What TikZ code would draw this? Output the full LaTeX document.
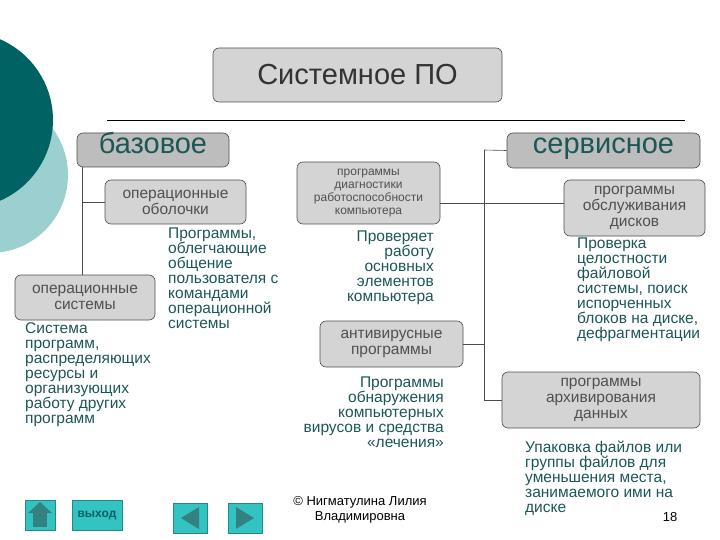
\documentclass[tikz,border=0pt]{standalone}
\usepackage{fontspec}
\setmainfont{Liberation Sans}
\usetikzlibrary{shapes.geometric}
\definecolor{dteal}{HTML}{006262}
\definecolor{lteal}{HTML}{9CCFCF}
\definecolor{boxg}{HTML}{D4D4D4}
\definecolor{boxd}{HTML}{BDBDBD}
\definecolor{txtg}{HTML}{505050}
\definecolor{txtt}{HTML}{1C5656}
\definecolor{btn}{HTML}{33C3C3}
\begin{document}
\begin{tikzpicture}[x=1pt,y=-1pt,
  gbox/.style={draw=black!70,fill=boxg,rounded corners=6pt,line width=0.6pt,inner sep=0pt,align=center,text=txtg,font=\fontsize{15.5}{16}\selectfont},
  bigbox/.style={draw=black!70,fill=boxd,rounded corners=6pt,line width=0.6pt,inner sep=0pt,align=center,text=txtt,font=\fontsize{29}{30}\selectfont,text height=0.72em,text depth=0.1em},
  desc/.style={text=txtt,font=\fontsize{15.5}{15}\selectfont,inner sep=0pt},
  conn/.style={draw=black!70,line width=0.6pt},
  btnb/.style={fill=btn,draw=btn!70!black,line width=0.4pt}]
\useasboundingbox (0,0) rectangle (720,540);
\fill[lteal] (-10,175) circle (78);
\fill[dteal] (-35,120) circle (88);
% title
\node[gbox,minimum width=289,minimum height=54,font=\fontsize{29}{30}\selectfont,text=black!80] (title) at (357.5,75) {Системное ПО};
\draw[line width=0.8pt] (107,120) -- (685,120);
\node[bigbox,minimum width=152,minimum height=34] (base) at (153,150) {базовое};
\node[bigbox,minimum width=193,minimum height=35] (serv) at (603.5,150.5) {сервисное};
% left
\node[gbox,minimum width=141,minimum height=44] (shell) at (175.5,202) {операционные\\оболочки};
\node[gbox,minimum width=140,minimum height=45] (os) at (85,297.5) {операционные\\системы};
\coordinate (lb) at (82,167);
\draw[conn] (lb) -- (lb|-os.north);
\draw[conn] (lb|-shell.west) -- (shell.west);
\node[desc,anchor=north west,align=left] (d1) at (168,228) {Программы,\\облегчающие\\общение\\пользователя с\\командами\\операционной\\системы};
\node[desc,anchor=north west,align=left] (d2) at (25,322) {Система\\программ,\\распределяющих\\ресурсы и\\организующих\\работу других\\программ};
% middle
\node[gbox,minimum width=143,minimum height=62,font=\fontsize{12}{13}\selectfont] (diag) at (368.5,193) {программы\\диагностики\\работоспособности\\компьютера};
\node[gbox,minimum width=143,minimum height=46] (anti) at (391.5,344) {антивирусные\\программы};
\node[gbox,minimum width=141,minimum height=56] (disk) at (634.5,208) {программы\\обслуживания\\дисков};
\node[gbox,minimum width=198,minimum height=56] (arch) at (601,400) {программы\\архивирования\\данных};
\coordinate (rv) at (484,150);
\coordinate (dj) at (440,203);
\draw[conn] (rv) -- (rv|-arch.west) -- (arch.west);
\draw[conn] (rv) -- (serv.west);
\draw[conn] (dj) -- (dj-|disk.west);
\draw[conn] (anti.east) -- (rv|-anti.east);
\node[desc,anchor=north east,align=right] (d3) at (434,231) {Проверяет\\работу\\основных\\элементов\\компьютера};
\node[desc,anchor=north east,align=right] (d4) at (444,377) {Программы\\обнаружения\\компьютерных\\вирусов и средства\\«лечения»};
\node[desc,anchor=north west,align=left] (d5) at (577,238) {Проверка\\целостности\\файловой\\системы, поиск\\испорченных\\блоков на диске,\\дефрагментации};
\node[desc,anchor=north west,align=left] (d6) at (525,441) {Упаковка файлов или\\группы файлов для\\уменьшения места,\\занимаемого ими на\\диске};
% footer
\node[btnb,minimum width=30,minimum height=30,inner sep=0pt] (home) at (40,515) {};
\fill[dteal!80] (28,513) -- (40,502) -- (52,513) -- cycle;
\fill[dteal!80] (33,513) rectangle (47,527);
\node[btnb,minimum width=50,minimum height=30,inner sep=0pt,font=\bfseries\fontsize{12}{12}\selectfont,text=dteal] (exit) at (97,515) {выход};
\node[btnb,minimum width=34,minimum height=30,inner sep=0pt] (prev) at (190,518) {};
\fill[dteal!80] (181,518) -- (199,507) -- (199,529) -- cycle;
\node[btnb,minimum width=34,minimum height=30,inner sep=0pt] (next) at (245,518) {};
\fill[dteal!80] (254,518) -- (236,507) -- (236,529) -- cycle;
\node[align=center,font=\fontsize{13}{15}\selectfont,inner sep=0pt] (copy) at (360,510) {© Нигматулина Лилия\\Владимировна};
\node[font=\fontsize{13}{13}\selectfont,inner sep=0pt] (pg) at (670,517) {18};
\end{tikzpicture}
\end{document}
